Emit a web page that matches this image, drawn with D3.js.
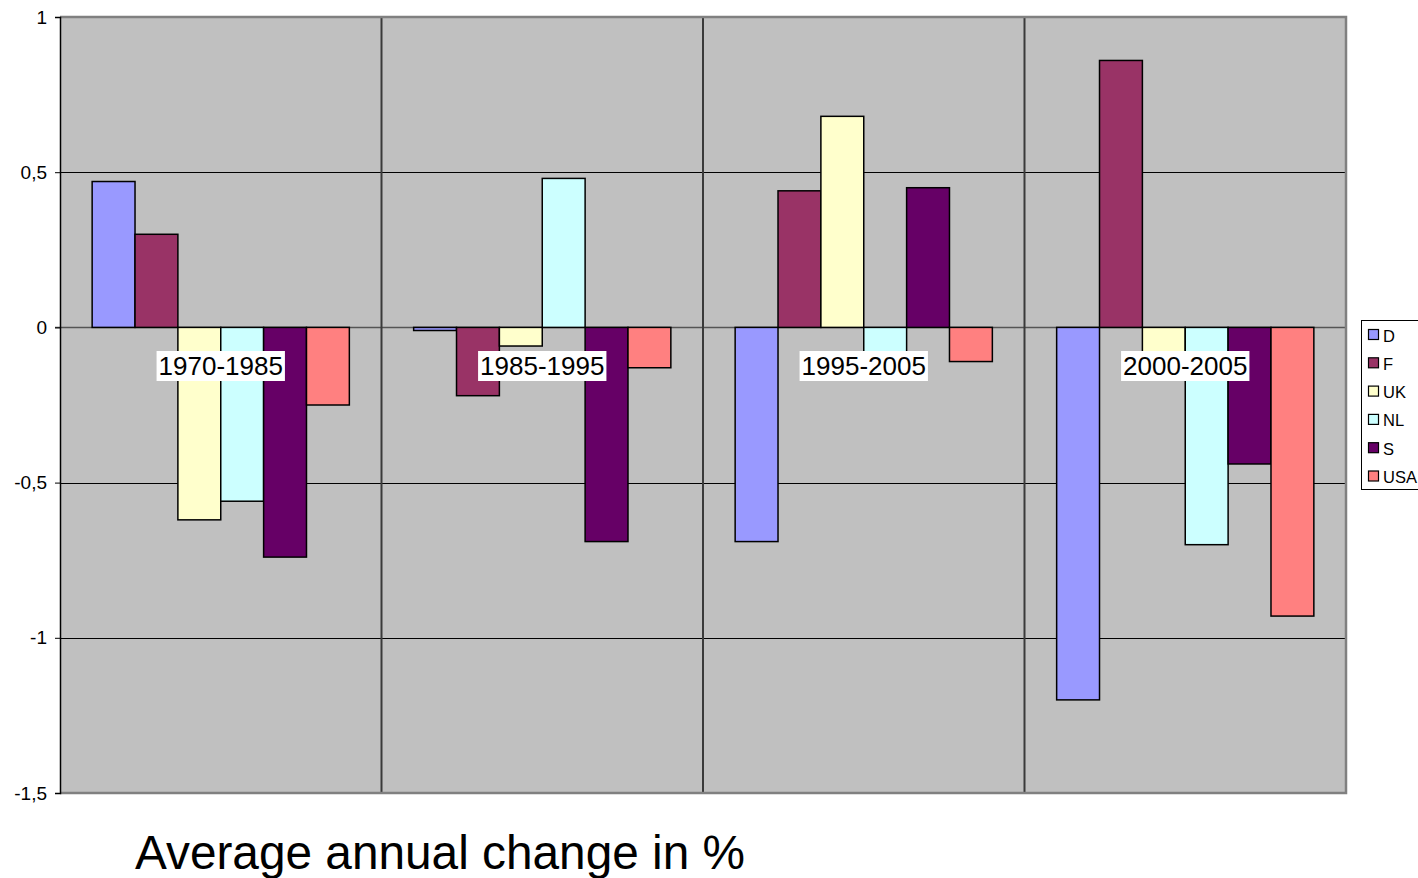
<!DOCTYPE html>
<html>
<head>
<meta charset="utf-8">
<script src="https://cdn.jsdelivr.net/npm/d3@7"></script>
<style>
  html, body { margin: 0; padding: 0; background: #fff; }
  svg { display: block; font-family: "Liberation Sans", Arial, sans-serif; }
</style>
</head>
<body>
<svg id="chart" width="1418" height="878"></svg>
<script>
// Periods on the category axis
const periods = ["1970-1985", "1985-1995", "1995-2005", "2000-2005"];
// Countries (series)
const countries = ["D", "F", "UK", "NL", "S", "USA"];
const colors = ["#9999FF", "#993366", "#FFFFCC", "#CCFFFF", "#660066", "#FF8080"];
// Average annual change in %, one array per country, in period order
const valD   = [0.47, -0.01, -0.69, -1.20];
const valF   = [0.30, -0.22,  0.44,  0.86];
const valUK  = [-0.62, -0.06, 0.68, -0.08];
const valNL  = [-0.56,  0.48, -0.08, -0.70];
const valS   = [-0.74, -0.69,  0.45, -0.44];
const valUSA = [-0.25, -0.13, -0.11, -0.93];
const seriesValues = [valD, valF, valUK, valNL, valS, valUSA];
// Value axis ticks
const yTicks = [1, 0.5, 0, -0.5, -1, -1.5];
const yTickLabels = ["1", "0,5", "0", "-0,5", "-1", "-1,5"];
const title = "Average annual change in %";

const svg = d3.select("#chart");
const plot = { left: 60, top: 17, right: 1346, bottom: 793 };

const x0 = d3.scaleBand().domain(periods).range([plot.left, plot.right]).padding(0);
// six bars per group, with a gap of 1.5 bar widths split on both sides
const x1 = d3.scaleBand().domain(countries).range([0, x0.bandwidth()])
  .paddingInner(0).paddingOuter(0.75);
const y = d3.scaleLinear().domain([-1.5, 1]).range([plot.bottom, plot.top]);

// plot background
svg.append("rect")
  .attr("x", plot.left).attr("y", plot.top)
  .attr("width", plot.right - plot.left).attr("height", plot.bottom - plot.top)
  .attr("fill", "#C0C0C0");

// zero (category) axis line
svg.append("line")
  .attr("x1", plot.left - 5).attr("x2", plot.right)
  .attr("y1", y(0)).attr("y2", y(0))
  .attr("stroke", "#555").attr("stroke-width", 1.5);

// horizontal gridlines
svg.append("g").selectAll("line")
  .data(yTicks.filter(t => t !== 1 && t !== -1.5 && t !== 0))
  .join("line")
  .attr("x1", plot.left).attr("x2", plot.right)
  .attr("y1", d => Math.round(y(d)) + 0.5).attr("y2", d => Math.round(y(d)) + 0.5)
  .attr("stroke", "#000").attr("stroke-width", 1);

// group separators
svg.append("g").selectAll("line")
  .data(periods.slice(1))
  .join("line")
  .attr("x1", d => x0(d)).attr("x2", d => x0(d))
  .attr("y1", plot.top).attr("y2", plot.bottom)
  .attr("stroke", "#3a3a3a").attr("stroke-width", 2);

// border: top / right / bottom in gray
svg.append("path")
  .attr("d", `M${plot.left},${plot.top} H${plot.right} V${plot.bottom} H${plot.left}`)
  .attr("fill", "none").attr("stroke", "#808080").attr("stroke-width", 2.5);

// bars
const gGroups = svg.append("g").selectAll("g")
  .data(periods)
  .join("g")
  .attr("transform", d => `translate(${x0(d)},0)`);

gGroups.selectAll("rect")
  .data((p, pi) => countries.map((c, ci) => ({ c, ci, v: seriesValues[ci][pi] })))
  .join("rect")
  .attr("x", d => x1(d.c))
  .attr("width", x1.bandwidth())
  .attr("y", d => y(Math.max(0, d.v)))
  .attr("height", d => Math.abs(y(d.v) - y(0)))
  .attr("fill", d => colors[d.ci])
  .attr("stroke", "#000").attr("stroke-width", 1.5);

// value axis
const yAxis = d3.axisLeft(y).tickValues(yTicks)
  .tickFormat((d, i) => yTickLabels[i]).tickSize(5).tickPadding(8);
const ga = svg.append("g").attr("transform", `translate(${plot.left},0)`).call(yAxis);
ga.attr("font-family", "Liberation Sans, Arial, sans-serif").attr("font-size", 19);
ga.select(".domain").attr("stroke", "#000").attr("stroke-width", 1.5);
ga.selectAll(".tick line").attr("stroke", "#000");
ga.selectAll(".tick text").attr("fill", "#000");

// category labels with white boxes
const labelG = svg.append("g");
periods.forEach(p => {
  const cx = x0(p) + x0.bandwidth() / 2;
  const t = labelG.append("text")
    .attr("x", cx).attr("y", 375)
    .attr("text-anchor", "middle")
    .attr("font-size", 26).attr("fill", "#000")
    .text(p);
  const bb = t.node().getBBox();
  labelG.insert("rect", "text")
    .attr("x", bb.x - 2).attr("y", 351)
    .attr("width", bb.width + 4).attr("height", 30)
    .attr("fill", "#fff");
});

// legend
const lg = svg.append("g");
lg.append("rect")
  .attr("x", 1361.5).attr("y", 320.5).attr("width", 70).attr("height", 169)
  .attr("fill", "#fff").attr("stroke", "#000").attr("stroke-width", 1);
const items = lg.selectAll("g.item").data(countries).join("g").attr("class", "item")
  .attr("transform", (d, i) => `translate(1368, ${335 + i * 28.3})`);
items.append("rect")
  .attr("x", 0.5).attr("y", -5.5).attr("width", 10).attr("height", 10)
  .attr("fill", (d, i) => colors[i]).attr("stroke", "#000").attr("stroke-width", 1.2);
items.append("text")
  .attr("x", 15).attr("y", 6.5)
  .attr("font-size", 16.5).attr("fill", "#000")
  .text(d => d);

// title
svg.append("text")
  .attr("x", 135).attr("y", 869)
  .attr("font-size", 48).attr("fill", "#000")
  .attr("textLength", 610).attr("lengthAdjust", "spacingAndGlyphs")
  .text(title);
</script>
</body>
</html>
